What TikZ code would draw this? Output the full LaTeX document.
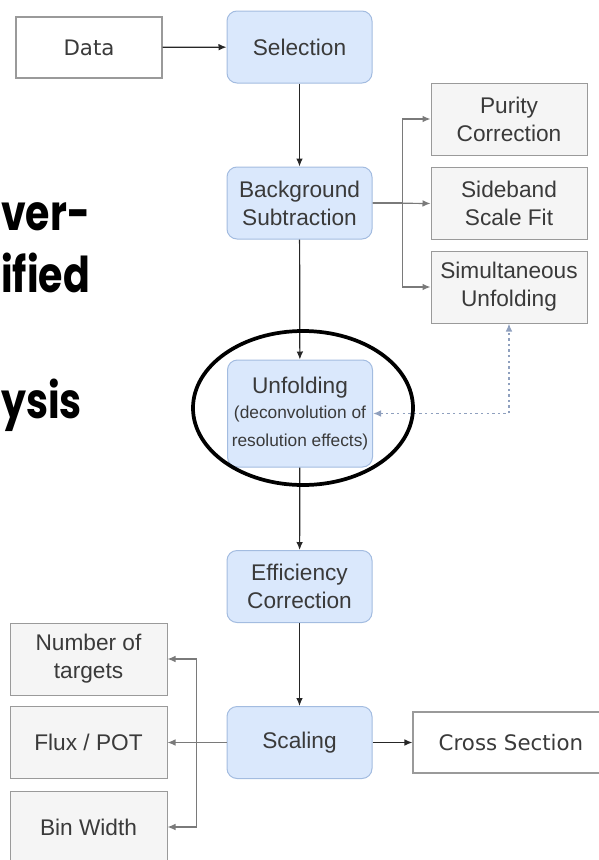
\documentclass[tikz,border=0pt]{standalone}
\usepackage{fontspec}
\setmainfont{Liberation Sans}
\newfontfamily\boxfont{DejaVu Sans}
\newfontfamily\slidefont{Poppins}
\usetikzlibrary{arrows.meta}

\definecolor{stepfill}{HTML}{DAE8FC}
\definecolor{stepline}{HTML}{A3BCE0}
\definecolor{inputfill}{HTML}{F5F5F5}
\definecolor{inputline}{HTML}{9A9A9A}
\definecolor{txtgray}{HTML}{3A3A3A}
\definecolor{sidegray}{HTML}{7A7A7A}
\definecolor{fbblue}{HTML}{8FA0BE}

\tikzset{
  flowstep/.style={draw=stepline, fill=stepfill, rounded corners=7.5pt, line width=0.75pt,
    minimum width=108.75pt, minimum height=54pt, align=center, text=txtgray,
    font=\fontsize{17}{21}\selectfont, inner sep=2pt},
  inputbox/.style={draw=inputline, fill=inputfill, line width=0.75pt,
    minimum height=54pt, align=center, text=txtgray,
    font=\fontsize{17}{21}\selectfont, inner sep=2pt},
  endbox/.style={draw=inputline, fill=white, line width=0.9pt,
    minimum height=45.75pt, text=txtgray, font=\boxfont\fontsize{16}{20}\selectfont},
  mainarrow/.style={->, draw=black!85, line width=0.9pt},
  sidearrow/.style={->, draw=sidegray, line width=0.9pt},
  fbarrow/.style={<->, draw=fbblue, line width=1.1pt, dash pattern=on 1.8pt off 2.4pt},
  slidetxt/.style={font=\slidefont\bfseries\fontsize{37}{44}\selectfont, anchor=base west,
    inner sep=0pt, xscale=0.8, transform shape}
}

\begin{document}
\begin{tikzpicture}[x=0.75pt, y=-0.75pt, >={Latex[length=6pt,width=5pt]}]
  \useasboundingbox (0,0) rectangle (599,860);

  % cut-off slide text
  \node[slidetxt] (txtover) at (1,230) {ver-};
  \node[slidetxt] (txtunif) at (1,292) {ified};
  \node[slidetxt] (txtanal) at (1,418) {ysis};

  % main chain
  \node[endbox, minimum width=109.5pt] (data) at (89,47.5) {Data};
  \node[flowstep] (selection) at (299.5,47) {Selection};
  \node[flowstep] (bkgsub) at (299.5,203) {Background\\Subtraction};
  \node[flowstep, minimum height=80.25pt] (unfold) at (300,413.5)
    {Unfolding\\[-2pt]{\fontsize{13}{21}\selectfont(deconvolution of}\\{\fontsize{13}{21}\selectfont resolution effects)}};
  \node[flowstep] (effcorr) at (299.5,586.5) {Efficiency\\Correction};
  \node[flowstep] (scaling) at (299.5,742.5) {Scaling};
  \node[endbox, minimum width=147pt] (xsec) at (511,742.5) {Cross Section};

  % background inputs
  \node[inputbox, minimum width=117pt] (purity) at (509,119) {Purity\\Correction};
  \node[inputbox, minimum width=117pt] (sideband) at (509,203.5) {Sideband\\Scale Fit};
  \node[inputbox, minimum width=117pt] (simunf) at (509,287) {Simultaneous\\Unfolding};

  % scaling inputs
  \node[inputbox, minimum width=117.75pt] (ntargets) at (88.5,659) {Number of\\targets};
  \node[inputbox, minimum width=117.75pt] (flux) at (88.5,742.5) {Flux / POT};
  \node[inputbox, minimum width=117.75pt] (binwidth) at (88.5,827) {Bin Width};

  \draw[mainarrow] (data) -- (selection);
  \draw[mainarrow] (selection) -- (bkgsub);
  \draw[mainarrow] (bkgsub) -- (unfold);
  \draw[mainarrow] (unfold) -- (effcorr);
  \draw[mainarrow] (effcorr) -- (scaling);
  \draw[mainarrow] (scaling) -- (xsec);

  \draw[sidearrow] (bkgsub.east) -- (sideband.west);
  \draw[sidearrow] (bkgsub.east) -- ++(30,0) |- (purity.west);
  \draw[sidearrow] (bkgsub.east) -- ++(30,0) |- (simunf.west);

  \draw[sidearrow] (scaling.west) -- (flux.east);
  \draw[sidearrow] (scaling.west) -- ++(-30,0) |- (ntargets.east);
  \draw[sidearrow] (scaling.west) -- ++(-30,0) |- (binwidth.east);

  \draw[fbarrow] (unfold.east) -| (simunf.south);

  % highlight
  \draw[line width=2.8pt] (303,408) ellipse [x radius=110, y radius=77];
\end{tikzpicture}
\end{document}
